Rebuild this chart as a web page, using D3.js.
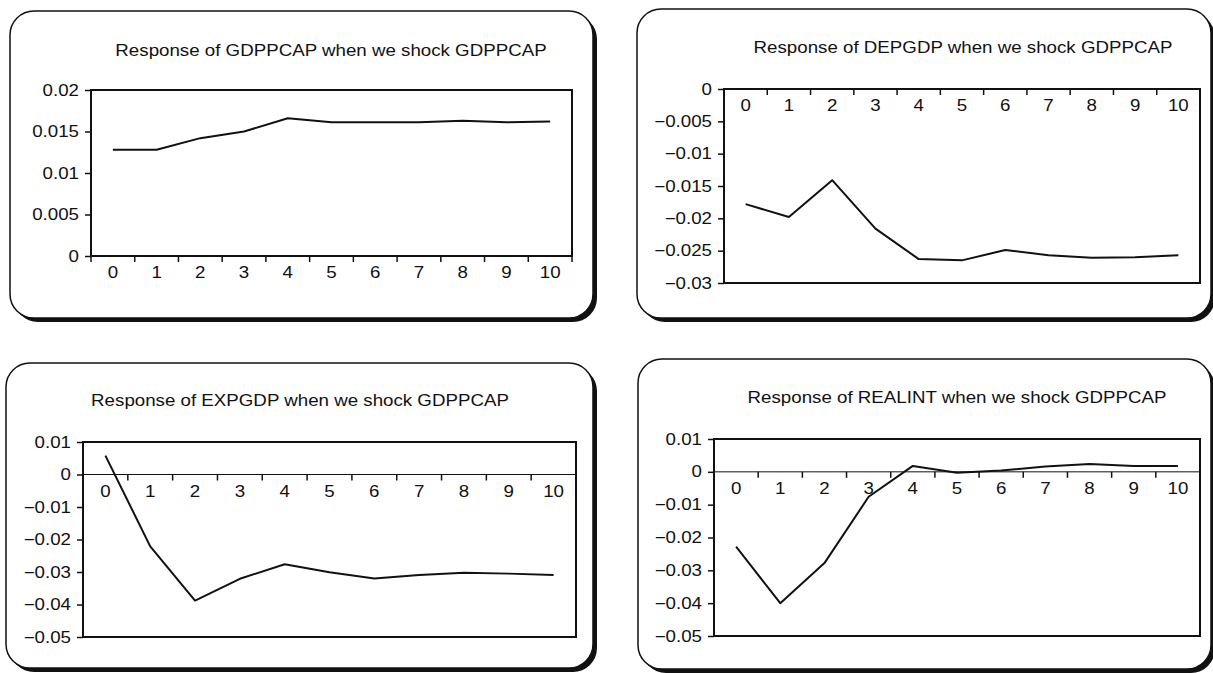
<!DOCTYPE html>
<html>
<head>
<meta charset="utf-8">
<script src="https://cdn.jsdelivr.net/npm/d3@7"></script>
<style>
  body { margin: 0; background: white; }
  svg { display: block; }
</style>
</head>
<body>
<svg width="1213" height="673"></svg>
<script>
// impulse responses, periods 0..10
const periods = ["0", "1", "2", "3", "4", "5", "6", "7", "8", "9", "10"];
const gdppcap = [0.0128, 0.0128, 0.0142, 0.0150, 0.0166, 0.0161, 0.0161, 0.0161, 0.0163, 0.0161, 0.0162];
const depgdp = [-0.0178, -0.0198, -0.0141, -0.0216, -0.0263, -0.0265, -0.0249, -0.0257, -0.0261, -0.0260, -0.0257];
const expgdp = [0.0058, -0.0221, -0.0388, -0.0321, -0.0276, -0.0301, -0.0320, -0.0309, -0.0302, -0.0305, -0.0309];
const realint = [-0.0228, -0.0400, -0.0278, -0.0076, 0.0018, -0.0003, 0.0004, 0.0016, 0.0024, 0.0018, 0.0018];

const titles = [
  "Response of GDPPCAP when we shock GDPPCAP",
  "Response of DEPGDP when we shock GDPPCAP",
  "Response of EXPGDP when we shock GDPPCAP",
  "Response of REALINT when we shock GDPPCAP"
];
const ticks1 = [0, 0.005, 0.01, 0.015, 0.02];
const ticks2 = [-0.03, -0.025, -0.02, -0.015, -0.01, -0.005, 0];
const ticks3 = [-0.05, -0.04, -0.03, -0.02, -0.01, 0, 0.01];

const svg = d3.select('svg');
const stretch = 1.17;   // the scanned text is a bit wider than Arial
const font = "'Liberation Sans', Arial, Helvetica, sans-serif";
const ink = '#111';

// layout of each panel (box, plot area, title centre)
const panels = [
  { values: gdppcap, title: titles[0], ticks: ticks1, box: [10, 11, 583, 307], plot: [91, 90, 572, 256], tx: 331, ty: 50 },
  { values: depgdp,  title: titles[1], ticks: ticks2, box: [637, 9, 574, 309],  plot: [724, 89, 1200, 283], tx: 963, ty: 47 },
  { values: expgdp,  title: titles[2], ticks: ticks3, box: [6, 363, 587, 305],  plot: [83, 442, 576, 637], tx: 300, ty: 400 },
  { values: realint, title: titles[3], ticks: ticks3, box: [638, 359, 573, 310], plot: [714, 439, 1200, 636], tx: 957, ty: 397 }
];

function fmt(d) {
  if (Math.abs(d) < 1e-9) return "0";
  return (d < 0 ? "\u2212" : "") + (+Math.abs(d).toFixed(3));
}

function widen(sel) {
  sel.each(function () {
    const x = +this.getAttribute('x') || 0;
    d3.select(this).attr('transform', `translate(${x * (1 - stretch)},0) scale(${stretch},1)`);
  });
}

panels.forEach(p => {
  const [bx, by, bw, bh] = p.box;
  const [x0, y0, x1, y1] = p.plot;

  // rounded frame with drop shadow
  svg.append('rect')
    .attr('x', bx + 4).attr('y', by + 4)
    .attr('width', bw).attr('height', bh)
    .attr('rx', 24).attr('fill', ink);
  svg.append('rect')
    .attr('x', bx).attr('y', by)
    .attr('width', bw).attr('height', bh)
    .attr('rx', 24).attr('fill', 'white')
    .attr('stroke', ink).attr('stroke-width', 1.5);

  svg.append('text')
    .attr('x', p.tx).attr('y', p.ty)
    .attr('dy', '0.35em')
    .attr('text-anchor', 'middle')
    .attr('font-family', font).attr('font-size', 16)
    .attr('fill', ink)
    .text(p.title)
    .call(widen);

  const x = d3.scaleBand().domain(periods).range([x0, x1]);
  const y = d3.scaleLinear().domain(d3.extent(p.ticks)).range([y1, y0]);
  const zeroY = y(0);

  const g = svg.append('g');

  // zero line
  g.append('line')
    .attr('x1', x0).attr('x2', x1)
    .attr('y1', zeroY).attr('y2', zeroY)
    .attr('stroke', ink).attr('stroke-width', 1);

  // y axis
  const yAxis = g.append('g')
    .attr('transform', `translate(${x0},0)`)
    .call(d3.axisLeft(y).tickValues(p.ticks).tickFormat(fmt).tickSize(6).tickPadding(6));
  yAxis.select('.domain').remove();
  yAxis.selectAll('line').attr('stroke', ink).attr('stroke-width', 1.5);
  yAxis.selectAll('text')
    .attr('font-family', font).attr('font-size', 16).attr('fill', ink)
    .call(widen);

  // x axis: labels centred in bands, ticks on band edges
  const xAxis = g.append('g')
    .attr('transform', `translate(0,${zeroY})`)
    .call(d3.axisBottom(x).tickSize(0).tickPadding(11));
  xAxis.select('.domain').remove();
  xAxis.selectAll('text')
    .attr('font-family', font).attr('font-size', 16).attr('fill', ink)
    .call(widen);
  xAxis.selectAll('.edge')
    .data(periods.concat(['end']))
    .join('line')
    .attr('class', 'edge')
    .attr('x1', (d, i) => x0 + i * x.step())
    .attr('x2', (d, i) => x0 + i * x.step())
    .attr('y1', 0).attr('y2', 6)
    .attr('stroke', ink).attr('stroke-width', 1.5);

  // plot frame
  g.append('rect')
    .attr('x', x0).attr('y', y0)
    .attr('width', x1 - x0).attr('height', y1 - y0)
    .attr('fill', 'none')
    .attr('stroke', ink).attr('stroke-width', 2);

  // response line
  const line = d3.line()
    .x((d, i) => x(periods[i]) + x.bandwidth() / 2)
    .y(d => y(d));
  g.append('path')
    .attr('d', line(p.values))
    .attr('fill', 'none')
    .attr('stroke', ink)
    .attr('stroke-width', 2)
    .attr('stroke-linejoin', 'round');
});
</script>
</body>
</html>
